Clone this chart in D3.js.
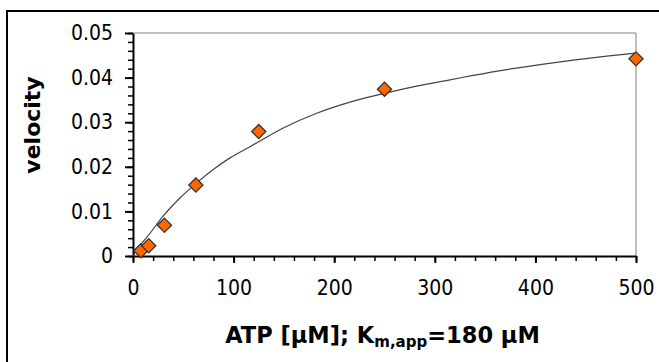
<!DOCTYPE html>
<html>
<head>
<script src="https://cdnjs.cloudflare.com/ajax/libs/d3/7.8.5/d3.min.js"></script>
<style>
  body { margin: 0; background: #fff; }
  text { font-family: "DejaVu Sans", Verdana, sans-serif; }
</style>
</head>
<body>
<div id="vis"></div>
<script type="text/javascript">

    // measured points
    var atp = [7.8125, 15.625, 31.25, 62.5, 125, 250, 500];
    var velocity = [0.0012, 0.0023, 0.0069, 0.0159, 0.0279, 0.0374, 0.0442];

    // fitted curve
    var fitX = [0, 3.7, 16.9, 30.1, 46.7, 63.3, 79.8, 96.4, 116.3, 149.4, 182.6, 215.7, 248.8, 282, 315.1, 338.3, 371.5, 404.6, 437.7, 470.9, 500];
    var fitY = [0, 0.00135, 0.0051, 0.0090, 0.0130, 0.0164, 0.0194, 0.0220, 0.0245, 0.0287, 0.0320, 0.0345, 0.0364, 0.0381, 0.0395, 0.0405, 0.0418, 0.0429, 0.0439, 0.0448, 0.0455];

    var xTicks = [0, 100, 200, 300, 400, 500];
    var yTicks = [0, 0.01, 0.02, 0.03, 0.04, 0.05];

    var w = 659, h = 362;
    var plotL = 133, plotR = 636, plotT = 33, plotB = 256;
    var tickFont = "'DejaVu Sans Condensed', 'DejaVu Sans', sans-serif";

    const svg = d3.select("#vis")
        .append("svg")
        .attr("width", w)
        .attr("height", h);

    // outer chart frame (runs off the right and bottom edges)
    svg.append("rect")
        .attr("x", 7).attr("y", 11)
        .attr("width", 670).attr("height", 370)
        .attr("fill", "none")
        .attr("stroke", "#000")
        .attr("stroke-width", 2);

    var x = d3.scaleLinear().domain([0, 500]).range([plotL, plotR]);
    var y = d3.scaleLinear().domain([0, 0.05]).range([plotB, plotT]);

    // plot area border (top and right)
    svg.append("path")
        .attr("d", `M${plotL},${plotT}H${plotR}V${plotB}`)
        .attr("fill", "none")
        .attr("stroke", "#808080")
        .attr("stroke-width", 1);

    // minor ticks
    svg.append("g")
        .attr("transform", `translate(0,${plotB})`)
        .call(d3.axisBottom(x).tickValues(d3.range(0, 501, 20)).tickSize(5).tickFormat(""))
        .call(g => g.select(".domain").remove())
        .selectAll("line").attr("stroke", "#000").attr("stroke-width", 1.5);
    svg.append("g")
        .attr("transform", `translate(${plotL},0)`)
        .call(d3.axisLeft(y).tickValues(d3.range(0, 0.0501, 0.002)).tickSize(5).tickFormat(""))
        .call(g => g.select(".domain").remove())
        .selectAll("line").attr("stroke", "#000").attr("stroke-width", 1.5);

    // major ticks + labels
    var xAxis = svg.append("g")
        .attr("transform", `translate(0,${plotB})`)
        .call(d3.axisBottom(x).tickValues(xTicks).tickSize(7).tickSizeOuter(0).tickPadding(17).tickFormat(d3.format("d")));
    xAxis.select(".domain").attr("stroke-width", 2);
    xAxis.selectAll("line").attr("stroke-width", 2);
    xAxis.selectAll("text").attr("font-size", 21).attr("fill", "#000")
        .style("font-family", tickFont);

    var yAxis = svg.append("g")
        .attr("transform", `translate(${plotL},0)`)
        .call(d3.axisLeft(y).tickValues(yTicks).tickSize(8).tickSizeOuter(0).tickPadding(12)
            .tickFormat(d => d === 0 ? "0" : d3.format(".2f")(d)));
    yAxis.select(".domain").attr("stroke-width", 2);
    yAxis.selectAll("line").attr("stroke-width", 2);
    yAxis.selectAll("text").attr("font-size", 21).attr("fill", "#000")
        .style("font-family", tickFont);

    // fit curve
    var fit = fitX.map((d, i) => [d, fitY[i]]);
    svg.append("path")
        .datum(fit)
        .attr("d", d3.line().x(d => x(d[0])).y(d => y(d[1])).curve(d3.curveMonotoneX))
        .attr("fill", "none")
        .attr("stroke", "#444")
        .attr("stroke-width", 1.2);

    // data points
    svg.append("g")
        .selectAll("path")
        .data(atp.map((d, i) => [d, velocity[i]]))
        .join("path")
        .attr("d", d3.symbol(d3.symbolSquare, 100))
        .attr("transform", d => `translate(${x(d[0])},${y(d[1])}) rotate(45)`)
        .attr("fill", "#FF6600")
        .attr("stroke", "#333")
        .attr("stroke-width", 1.3);

    // axis titles
    var xt = svg.append("text")
        .attr("x", (plotL + plotR) / 2 - 2)
        .attr("y", 343)
        .attr("text-anchor", "middle")
        .attr("font-size", 22.5)
        .attr("font-weight", "bold");
    xt.append("tspan").text("ATP [µM]; K");
    xt.append("tspan").attr("font-size", 15).attr("dy", 4).text("m,app");
    xt.append("tspan").attr("dy", -4).text("=180 µM");

    svg.append("text")
        .attr("transform", "translate(40,125) rotate(-90)")
        .attr("text-anchor", "middle")
        .attr("font-size", 22)
        .attr("font-weight", "bold")
        .text("velocity");

</script>
</body>
</html>
